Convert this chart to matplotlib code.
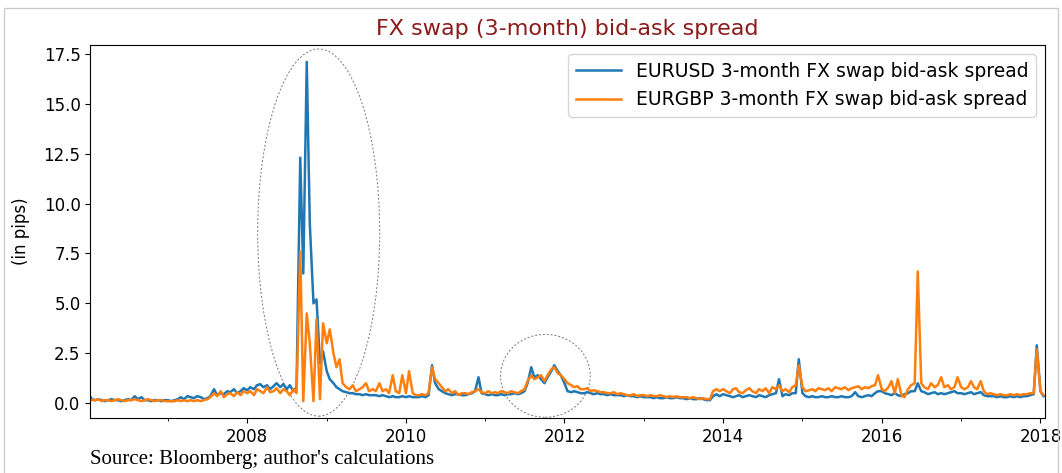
import numpy as np
import pandas as pd
import matplotlib
matplotlib.use("Agg")
import matplotlib.pyplot as plt
import matplotlib.dates as mdates
from matplotlib.patches import Ellipse, Rectangle

# semi-monthly observations (1st and 15th of each month), Jan 2006 - Jan 2018
dates = pd.date_range("2006-01-01", "2018-01-15", freq="SMS")

# EURUSD 3-month FX swap bid-ask spread, in pips (one row per year)
eurusd = [
    0.45, 0.2, 0.15, 0.2, 0.15, 0.1, 0.15, 0.2, 0.15, 0.15, 0.1, 0.15, 0.2, 0.15, 0.35, 0.2, 0.3, 0.15, 0.15, 0.1, 0.15, 0.15, 0.1, 0.15,
    0.15, 0.1, 0.15, 0.2, 0.3, 0.2, 0.35, 0.3, 0.25, 0.35, 0.3, 0.2, 0.25, 0.35, 0.7, 0.4, 0.5, 0.45, 0.6, 0.55, 0.7, 0.5, 0.6, 0.75,
    0.65, 0.8, 0.7, 0.9, 0.95, 0.8, 0.9, 0.7, 0.85, 1.0, 0.8, 0.95, 0.7, 0.9, 0.6, 0.8, 12.3, 6.5, 17.1, 9.0, 5.0, 5.2, 2.0, 2.6,
    1.6, 1.2, 1.0, 0.8, 0.7, 0.6, 0.55, 0.5, 0.5, 0.45, 0.45, 0.4, 0.45, 0.4, 0.4, 0.4, 0.35, 0.4, 0.35, 0.3, 0.35, 0.3, 0.3, 0.35,
    0.3, 0.35, 0.3, 0.3, 0.3, 0.35, 0.3, 0.4, 1.9, 1.0, 0.7, 0.6, 0.5, 0.45, 0.4, 0.45, 0.45, 0.4, 0.4, 0.45, 0.5, 0.6, 1.3, 0.5,
    0.45, 0.4, 0.45, 0.4, 0.4, 0.45, 0.4, 0.45, 0.45, 0.5, 0.45, 0.5, 0.6, 1.0, 1.8, 1.3, 1.4, 1.2, 1.0, 1.3, 1.6, 1.9, 1.6, 1.4,
    1.0, 0.6, 0.55, 0.6, 0.55, 0.5, 0.5, 0.55, 0.5, 0.45, 0.5, 0.45, 0.45, 0.4, 0.45, 0.4, 0.4, 0.4, 0.35, 0.4, 0.35, 0.35, 0.3, 0.35,
    0.3, 0.3, 0.3, 0.25, 0.3, 0.25, 0.25, 0.3, 0.25, 0.25, 0.3, 0.25, 0.25, 0.2, 0.25, 0.2, 0.2, 0.25, 0.2, 0.15, 0.15, 0.35, 0.45, 0.35,
    0.45, 0.4, 0.35, 0.3, 0.35, 0.4, 0.3, 0.35, 0.4, 0.35, 0.3, 0.4, 0.35, 0.3, 0.4, 0.45, 0.5, 1.2, 0.35, 0.45, 0.4, 0.5, 0.5, 2.2,
    0.5, 0.35, 0.3, 0.35, 0.3, 0.3, 0.35, 0.3, 0.3, 0.35, 0.3, 0.3, 0.35, 0.3, 0.3, 0.35, 0.55, 0.35, 0.3, 0.35, 0.4, 0.35, 0.5, 0.6,
    0.6, 0.5, 0.45, 0.4, 0.5, 0.4, 0.35, 0.45, 0.5, 0.6, 0.6, 1.0, 0.6, 0.55, 0.45, 0.5, 0.55, 0.45, 0.5, 0.45, 0.5, 0.55, 0.6, 0.5,
    0.5, 0.45, 0.5, 0.55, 0.45, 0.5, 0.55, 0.4, 0.35, 0.35, 0.35, 0.3, 0.35, 0.3, 0.3, 0.35, 0.3, 0.35, 0.3, 0.35, 0.35, 0.4, 0.45, 2.9,
    0.6, 0.35,
]

# EURGBP 3-month FX swap bid-ask spread, in pips
eurgbp = [
    0.2, 0.15, 0.15, 0.2, 0.1, 0.15, 0.15, 0.1, 0.15, 0.2, 0.15, 0.1, 0.15, 0.15, 0.2, 0.15, 0.1, 0.15, 0.2, 0.15, 0.1, 0.15, 0.15, 0.1,
    0.1, 0.1, 0.1, 0.15, 0.1, 0.15, 0.1, 0.15, 0.1, 0.15, 0.1, 0.15, 0.2, 0.3, 0.5, 0.35, 0.6, 0.3, 0.45, 0.5, 0.35, 0.55, 0.4, 0.6,
    0.5, 0.6, 0.4, 0.7, 0.6, 0.5, 0.8, 0.55, 0.6, 0.75, 0.5, 0.7, 0.6, 0.4, 0.7, 0.5, 7.6, 0.1, 4.5, 3.0, 0.1, 4.2, 0.2, 4.0,
    3.0, 3.7, 2.5, 1.8, 2.2, 1.0, 0.8, 0.7, 0.9, 0.6, 0.7, 0.8, 1.0, 0.6, 0.7, 0.6, 1.0, 0.6, 0.7, 0.5, 1.4, 0.6, 0.5, 1.4,
    0.5, 1.6, 0.5, 0.4, 0.4, 0.45, 0.4, 0.5, 1.8, 1.2, 1.0, 0.8, 0.6, 0.7, 0.5, 0.6, 0.4, 0.5, 0.5, 0.45, 0.55, 0.6, 0.7, 0.55,
    0.5, 0.6, 0.5, 0.55, 0.5, 0.6, 0.55, 0.5, 0.6, 0.55, 0.5, 0.6, 0.7, 1.1, 1.4, 1.2, 1.3, 1.4, 1.1, 1.4, 1.7, 1.8, 1.5, 1.4,
    1.2, 1.0, 0.9, 0.8, 0.85, 0.7, 0.7, 0.75, 0.6, 0.65, 0.6, 0.55, 0.55, 0.5, 0.5, 0.55, 0.45, 0.5, 0.45, 0.4, 0.4, 0.45, 0.35, 0.4,
    0.4, 0.35, 0.4, 0.35, 0.35, 0.4, 0.35, 0.3, 0.35, 0.3, 0.35, 0.3, 0.3, 0.3, 0.25, 0.3, 0.25, 0.2, 0.25, 0.2, 0.2, 0.6, 0.7, 0.6,
    0.7, 0.6, 0.5, 0.7, 0.75, 0.55, 0.5, 0.65, 0.75, 0.6, 0.5, 0.7, 0.6, 0.75, 0.5, 0.8, 0.7, 0.9, 0.6, 0.7, 0.55, 0.8, 0.9, 1.9,
    0.8, 0.6, 0.65, 0.7, 0.6, 0.75, 0.7, 0.65, 0.75, 0.6, 0.8, 0.75, 0.7, 0.8, 0.65, 0.75, 0.8, 0.85, 0.7, 0.8, 0.75, 0.85, 0.9, 1.4,
    0.7, 0.6, 0.8, 1.1, 0.5, 1.2, 0.4, 0.3, 0.7, 0.9, 1.0, 6.6, 1.0, 0.8, 0.7, 1.0, 0.8, 0.9, 1.3, 0.8, 0.9, 0.7, 0.8, 1.3,
    0.8, 0.7, 0.8, 1.1, 0.8, 0.7, 1.1, 0.6, 0.45, 0.5, 0.45, 0.4, 0.45, 0.4, 0.4, 0.45, 0.4, 0.45, 0.4, 0.45, 0.45, 0.5, 0.5, 2.7,
    0.6, 0.4,
]

labelled_years = [2008, 2010, 2012, 2014, 2016, 2018]

fig = plt.figure(figsize=(10.62, 4.73), dpi=100)
ax = fig.add_axes([0.085, 0.116, 0.899, 0.789])

ax.plot(dates, eurusd, color="#1f77b4", lw=1.8, label="EURUSD 3-month FX swap bid-ask spread")
ax.plot(dates, eurgbp, color="#ff7f0e", lw=1.8, label="EURGBP 3-month FX swap bid-ask spread")

ax.set_xlim(dates[0] + pd.Timedelta(days=7), dates[-1] + pd.Timedelta(days=7))
ax.set_yticks(np.arange(0, 17.6, 2.5))
ax.yaxis.set_major_formatter(matplotlib.ticker.FormatStrFormatter("%.1f"))
ax.set_xticks([pd.Timestamp(f"{y}-01-01") for y in labelled_years])
ax.set_xticklabels([str(y) for y in labelled_years])
ax.xaxis.set_minor_locator(mdates.YearLocator(1))
ax.tick_params(labelsize=12)
ax.set_ylabel("(in pips)", fontsize=12, labelpad=10)
ax.set_title("FX swap (3-month) bid-ask spread", color="#8b1a1a", fontsize=16, pad=7)

# highlight crisis periods
c1 = mdates.date2num(pd.Timestamp("2008-11-25"))
ax.add_patch(Ellipse((c1, 8.55), 562, 18.4, fill=False, ls=(0, (2, 2)), lw=0.7, ec="#777777"))
c2 = mdates.date2num(pd.Timestamp("2011-10-05"))
ax.add_patch(Ellipse((c2, 1.37), 413, 4.15, fill=False, ls=(0, (2, 2)), lw=0.7, ec="#777777"))

ax.legend(loc="upper right", fontsize=13.5, handlelength=2.4)

fig.text(0.085, 0.018, "Source: Bloomberg; author's calculations", family="Liberation Serif", fontsize=15)
fig.patches.append(Rectangle((0.004, -0.1), 0.992, 1.083, transform=fig.transFigure,
                             fill=False, ec="#cccccc", lw=1))

fig.savefig("out.png", dpi=100)
